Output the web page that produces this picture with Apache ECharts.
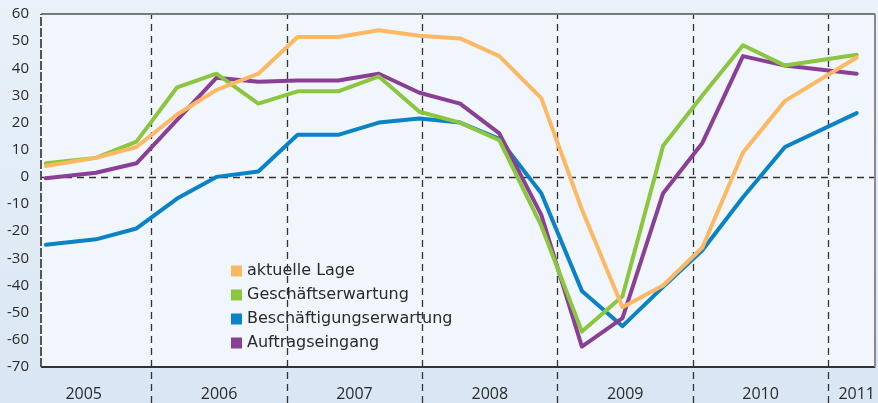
<!DOCTYPE html>
<html>
<head>
<meta charset="utf-8">
<script src="https://cdn.jsdelivr.net/npm/echarts@6/dist/echarts.min.js"></script>
<style>
  html, body { margin: 0; padding: 0; }
  #chart { width: 878px; height: 403px; }
</style>
</head>
<body>
<div id="chart"></div>
<script>
// Zeitpunkte der Umfragen (Jahr als Dezimalzahl)
const times = [2005.22, 2005.59, 2005.89, 2006.19, 2006.48, 2006.79, 2007.08, 2007.38, 2007.68, 2007.98,
  2008.28, 2008.57, 2008.88, 2009.18, 2009.48, 2009.78, 2010.07, 2010.37, 2010.68, 2011.21]

const aktuelleLage = [4, 7, 11, 23, 32, 38, 51.5, 51.5, 54, 52, 51, 44.5, 29, -12, -48, -40, -26, 9, 28, 44]
const geschaeftserwartung = [5, 7, 13, 33, 38, 27, 31.5, 31.5, 37, 24, 20, 13.5, -18, -57, -44, 11.5, 30, 48.5, 41, 45]
const beschaeftigungserwartung = [-25, -23, -19, -8, 0, 2, 15.5, 15.5, 20, 21.5, 20, 14, -6, -42, -55, -40.5, -27, -7.5, 11, 23.5]
const auftragseingang = [-0.5, 1.5, 5, 21, 36.5, 35, 35.5, 35.5, 38, 31, 27, 16, -14, -62.5, -52, -6, 12.5, 44.5, 41, 38]

const yTicks = [-70, -60, -50, -40, -30, -20, -10, 0, 10, 20, 30, 40, 50, 60]
const yearBounds = [2006, 2007, 2008, 2009, 2010, 2011]
const yearLabelPos = [2005.5, 2006.5, 2007.5, 2008.5, 2009.5, 2010.5, 2011.21]

const X_MIN = 2005.1845
const X_MAX = 2011.347
const Y_MIN = -83.3
const Y_MAX = 60

const fontFamily = '"Open Sans", "Noto Sans", sans-serif'

const colors = {
  lage: '#fdb864',
  geschaeft: '#8cc63e',
  beschaeft: '#0a83c6',
  auftrag: '#8a3f97'
}

const zip = (vals) => vals.map((v, i) => [times[i], v])

const makeSeries = (name, vals, color) => ({
  name: name,
  type: 'line',
  data: zip(vals),
  symbol: 'none',
  smooth: false,
  z: 5,
  itemStyle: { color: color },
  lineStyle: { color: color, width: 4, cap: 'round', join: 'round' }
})

const chart = echarts.init(document.getElementById('chart'))

const option = {
  animation: false,
  backgroundColor: new echarts.graphic.LinearGradient(0, 0, 0, 1, [
    { offset: 0, color: '#e9f1f9' },
    { offset: 1, color: '#d9e6f3' }
  ]),
  textStyle: { fontFamily: fontFamily },
  grid: { left: 41, right: 2, top: 14, bottom: 0 },
  legend: {
    orient: 'vertical',
    left: 223,
    top: 257,
    icon: 'rect',
    itemWidth: 11,
    itemHeight: 11,
    itemGap: 8,
    padding: [6, 10, 6, 8],
    backgroundColor: '#f1f6fc',
    data: ['aktuelle Lage', 'Geschäftserwartung', 'Beschäftigungserwartung', 'Auftragseingang'],
    textStyle: { fontSize: 16, color: '#2a2a2a', fontFamily: '"DejaVu Sans", sans-serif' }
  },
  xAxis: {
    type: 'value',
    min: X_MIN,
    max: X_MAX,
    axisLine: { show: false },
    axisTick: { show: false },
    splitLine: { show: false },
    axisLabel: {
      inside: true,
      margin: 1,
      customValues: yearLabelPos,
      formatter: (v) => String(Math.floor(v)),
      fontSize: 16,
      color: '#2a2a2a',
      showMinLabel: true,
      showMaxLabel: true
    }
  },
  yAxis: {
    type: 'value',
    min: Y_MIN,
    max: Y_MAX,
    axisLine: { show: false },
    axisTick: { show: false },
    splitLine: { show: false },
    axisLabel: {
      customValues: yTicks,
      margin: 12,
      fontSize: 15,
      color: '#2a2a2a'
    }
  },
  series: [
    {
      // Hilfsserie: Plotfläche, Raster- und Rahmenlinien
      name: 'frame',
      type: 'line',
      data: [],
      z: 1,
      silent: true,
      markArea: {
        silent: true,
        itemStyle: { color: '#f1f6fc' },
        data: [[{ yAxis: -70 }, { yAxis: 60 }]]
      },
      markLine: {
        silent: true,
        symbol: 'none',
        label: { show: false },
        lineStyle: { color: '#333', width: 1.3, type: [7, 5] },
        data: [
          ...yearBounds.map((v) => ({ xAxis: v })),
          { yAxis: 0 },
          { yAxis: 60, lineStyle: { color: '#7a7a7a', width: 2, type: 'solid' } },
          { yAxis: -70, lineStyle: { color: '#333', width: 2, type: 'solid' } },
          [{ coord: [X_MIN, -70], lineStyle: { color: '#555', width: 2, type: [9, 2] } }, { coord: [X_MIN, 60] }],
          [{ coord: [X_MAX, -70], lineStyle: { color: '#8a8a8a', width: 2, type: 'solid' } }, { coord: [X_MAX, 60] }]
        ]
      }
    },
    makeSeries('Beschäftigungserwartung', beschaeftigungserwartung, colors.beschaeft),
    makeSeries('Auftragseingang', auftragseingang, colors.auftrag),
    makeSeries('Geschäftserwartung', geschaeftserwartung, colors.geschaeft),
    makeSeries('aktuelle Lage', aktuelleLage, colors.lage)
  ]
}

chart.setOption(option)
</script>
</body>
</html>
